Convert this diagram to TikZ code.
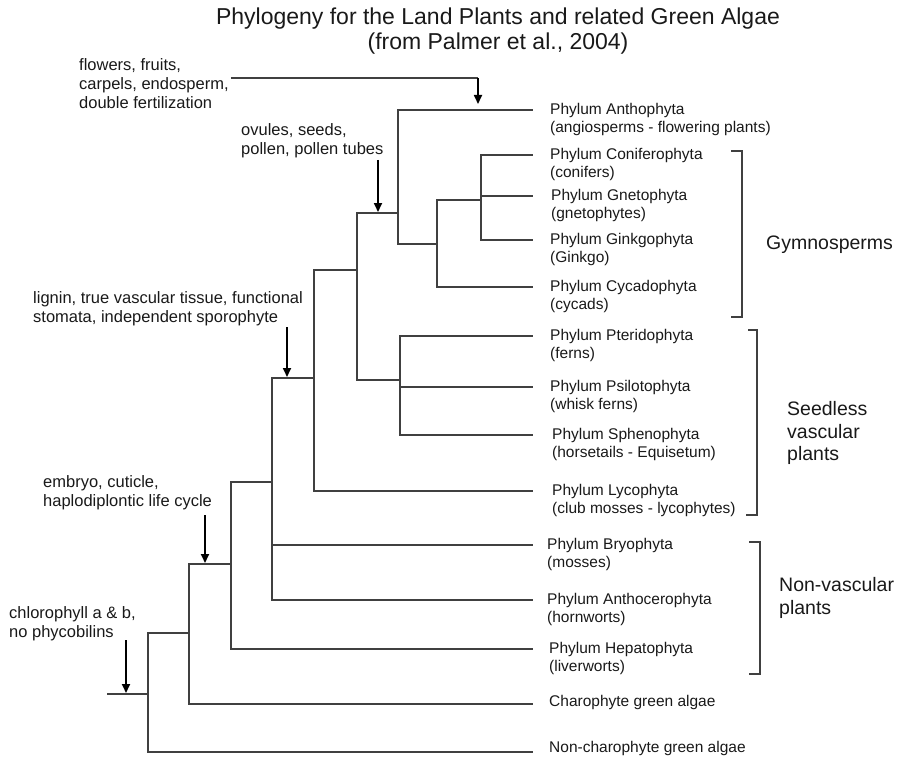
\documentclass[tikz,border=0pt]{standalone}
\usepackage{fontspec}
\setmainfont{Liberation Sans}
\usetikzlibrary{arrows.meta, positioning, calc}

\begin{document}
\begin{tikzpicture}[
    x=1pt, y=-1pt,
    >={Stealth[length=9pt, width=8pt, inset=0pt]},
    node distance=1cm and 0.8cm,
    branch/.style={draw=black!75, line width=1.1pt},
    traitarrow/.style={->, line width=1.7pt, draw=black},
    bracketline/.style={draw=black!75, line width=1.1pt},
    leaf/.style={anchor=west, align=left, inner sep=0pt, text=black!90, font=\fontsize{15.5}{18}\selectfont},
    trait/.style={anchor=west, align=left, inner sep=0pt, text=black!90, font=\fontsize{16.5}{19}\selectfont},
    group/.style={align=left, inner sep=0pt, text=black!90, font=\fontsize{19.5}{22.5}\selectfont},
    heading/.style={align=center, inner sep=0pt, text=black!90, font=\fontsize{23}{25}\selectfont}
]
\useasboundingbox (0,0) rectangle (913,757);

% TITLE
\node[heading] (title) at (498,31) {Phylogeny for the Land Plants and related Green Algae\\(from Palmer et al., 2004)};

% INNER NODES OF THE TREE
\coordinate (root) at (107,694);
\coordinate (n1) at (148,694);
\coordinate (n2) at (189,633);
\coordinate (n3) at (231,564);
\coordinate (n4) at (272,482);
\coordinate (n5) at (314,378);
\coordinate (n6) at (357,270);
\coordinate (n7) at (400,380);
\coordinate (n8) at (398,213);
\coordinate (n9) at (437,244);
\coordinate (n10) at (481,200);

% LEAVES
\coordinate (l_anth) at (533,110);
\coordinate (l_coni) at (533,155);
\coordinate (l_gnet) at (533,196);
\coordinate (l_gink) at (533,240);
\coordinate (l_cyca) at (533,287);
\coordinate (l_pter) at (533,336);
\coordinate (l_psil) at (533,387);
\coordinate (l_sphe) at (533,435);
\coordinate (l_lyco) at (533,491);
\coordinate (l_bryo) at (533,545);
\coordinate (l_antc) at (533,600);
\coordinate (l_hepa) at (533,649);
\coordinate (l_char) at (533,704);
\coordinate (l_nonc) at (533,752);

\node[leaf] (t_anth) at (550,119.5) {Phylum Anthophyta\\(angiosperms - flowering plants)};
\node[leaf] (t_coni) at (550,164.5) {Phylum Coniferophyta\\(conifers)};
\node[leaf] (t_gnet) at (551,205.5) {Phylum Gnetophyta\\(gnetophytes)};
\node[leaf] (t_gink) at (550,249.5) {Phylum Ginkgophyta\\(Ginkgo)};
\node[leaf] (t_cyca) at (550,296.5) {Phylum Cycadophyta\\(cycads)};
\node[leaf] (t_pter) at (550,345.5) {Phylum Pteridophyta\\(ferns)};
\node[leaf] (t_psil) at (550,396.5) {Phylum Psilotophyta\\(whisk ferns)};
\node[leaf] (t_sphe) at (552,444.5) {Phylum Sphenophyta\\(horsetails - Equisetum)};
\node[leaf] (t_lyco) at (552,500.5) {Phylum Lycophyta\\(club mosses - lycophytes)};
\node[leaf] (t_bryo) at (547,554.5) {Phylum Bryophyta\\(mosses)};
\node[leaf] (t_antc) at (547,609.5) {Phylum Anthocerophyta\\(hornworts)};
\node[leaf] (t_hepa) at (549,658.5) {Phylum Hepatophyta\\(liverworts)};
\node[leaf] (t_char) at (549,702) {Charophyte green algae};
\node[leaf] (t_nonc) at (549,748) {Non-charophyte green algae};

% BRANCHES
\draw[branch] (root) -- (n1);
\draw[branch] (n1) |- (n2);
\draw[branch] (n1) |- (l_nonc);
\draw[branch] (n2) |- (n3);
\draw[branch] (n2) |- (l_char);
\draw[branch] (n3) |- (n4);
\draw[branch] (n3) |- (l_hepa);
\draw[branch] (n4) |- (n5);
\draw[branch] (n4) |- (l_bryo);
\draw[branch] (n4) |- (l_antc);
\draw[branch] (n5) |- (n6);
\draw[branch] (n5) |- (l_lyco);
\draw[branch] (n6) |- (n8);
\draw[branch] (n6) |- (n7);
\draw[branch] (n7) |- (l_pter);
\draw[branch] (n7) |- (l_psil);
\draw[branch] (n7) |- (l_sphe);
\draw[branch] (n8) |- (l_anth);
\draw[branch] (n8) |- (n9);
\draw[branch] (n9) |- (n10);
\draw[branch] (n9) |- (l_cyca);
\draw[branch] (n10) |- (l_coni);
\draw[branch] (n10) |- (l_gnet);
\draw[branch] (n10) |- (l_gink);

% TRAITS
\node[trait] (flw) at (79,84) {flowers, fruits,\\carpels, endosperm,\\double fertilization};
\node[trait] (ovu) at (241,141) {ovules, seeds,\\pollen, pollen tubes};
\node[trait] (lig) at (33,309) {lignin, true vascular tissue, functional\\stomata, independent sporophyte};
\node[trait] (emb) at (43,493) {embryo, cuticle,\\haplodiplontic life cycle};
\node[trait] (chl) at (9,624) {chlorophyll a \& b,\\no phycobilins};

\coordinate (flw_bend) at (478,78);
\coordinate (flw_tip) at (478,104);
\coordinate (ovu_top) at (378,160);
\coordinate (ovu_tip) at (378,212);
\coordinate (lig_top) at (287,327);
\coordinate (lig_tip) at (287,377);
\coordinate (emb_top) at (205,515);
\coordinate (emb_tip) at (205,563);
\coordinate (chl_top) at (126,640);
\coordinate (chl_tip) at (126,693);

\draw[branch] ($(flw.east)+(2,-6)$) -| (flw_bend);
\draw[traitarrow] (flw_bend) -- (flw_tip);
\draw[traitarrow] (ovu_top) -- (ovu_tip);
\draw[traitarrow] (lig_top) -- (lig_tip);
\draw[traitarrow] (emb_top) -- (emb_tip);
\draw[traitarrow] (chl_top) -- (chl_tip);

% GROUP BRACKETS
\draw[bracketline] (731,151) -| (742,317) -- (731,317);
\draw[bracketline] (748,330) -| (757,515) -- (746,515);
\draw[bracketline] (749,542) -| (760,674) -- (749,674);
\coordinate (gym_mid) at (742,245);
\coordinate (sdl_mid) at (757,433);
\coordinate (nvp_mid) at (760,598);

\node[group, right=24pt of gym_mid] (gym) {Gymnosperms};
\node[group, right=30pt of sdl_mid] (sdl) {Seedless\\vascular\\plants};
\node[group, right=19pt of nvp_mid] (nvp) {Non-vascular\\plants};

\end{tikzpicture}
\end{document}
